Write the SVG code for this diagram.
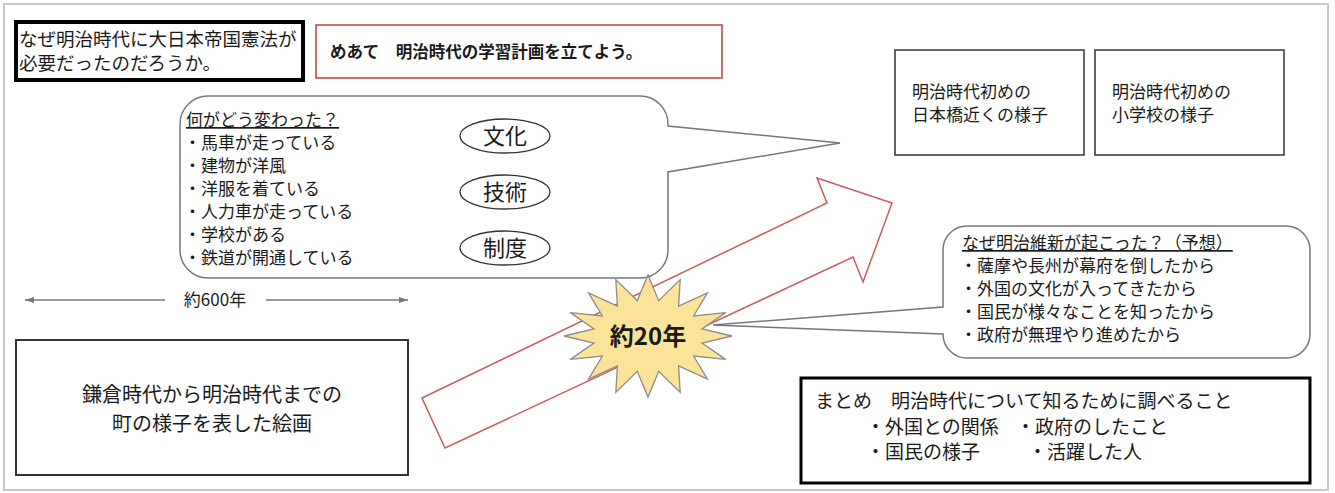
<svg xmlns="http://www.w3.org/2000/svg" width="1335" height="493" viewBox="0 0 1335 493">
<style>
text{font-family:"Noto Sans CJK JP","Noto Sans CJK SC",sans-serif;fill:#1a1a1a}
.t17{font-size:17px}
.t19{font-size:19px}
.box{fill:#fff;stroke:#333;stroke-width:1.5}
.bubble{fill:#fff;stroke:#777;stroke-width:1.5}
.ell{fill:#fff;stroke:#333;stroke-width:1.3}
.ellt{font-size:22px;text-anchor:middle}
.dim{stroke:#777;stroke-width:1.3;fill:none}
</style>
<defs>
<marker id="ah" markerWidth="10" markerHeight="8" refX="9" refY="4" orient="auto-start-reverse" markerUnits="userSpaceOnUse">
<path d="M0,1 L9,4 L0,7 Z" fill="#777"/>
</marker>
</defs>
<rect x="4" y="4" width="1324" height="486" fill="#fff" stroke="#c8c8c8" stroke-width="2"/>

<g id="question">
<rect x="16" y="22" width="287" height="58" fill="#fff" stroke="#000" stroke-width="4"/>
<text x="19" y="46" font-size="18.5">なぜ明治時代に大日本帝国憲法が</text>
<text x="19" y="70" font-size="18.5">必要だったのだろうか。</text>
</g>

<g id="meate">
<rect x="316" y="25" width="406" height="53" fill="#fff" stroke="#c83c3c" stroke-width="1.5"/>
<text x="330" y="58" font-size="16.5" font-weight="bold">めあて　明治時代の学習計画を立てよう。</text>
</g>

<g id="box-nihonbashi">
<rect class="box" x="895" y="50" width="189" height="105"/>
<text class="t17" x="912" y="98">明治時代初めの</text>
<text class="t17" x="912" y="121">日本橋近くの様子</text>
</g>

<g id="box-school">
<rect class="box" x="1095" y="50" width="189" height="105"/>
<text class="t17" x="1112" y="98">明治時代初めの</text>
<text class="t17" x="1112" y="121">小学校の様子</text>
</g>

<g id="changes-bubble">
<path class="bubble" d="M208,96 H640 A28,28 0 0 1 668,124 V126 L840,143 L668,172 V250 A28,28 0 0 1 640,278 H208 A28,28 0 0 1 180,250 V124 A28,28 0 0 1 208,96 Z"/>
<text class="t17" x="186" y="126" text-decoration="underline">何がどう変わった？</text>
<text class="t17" x="184" y="149">・馬車が走っている</text>
<text class="t17" x="184" y="172">・建物が洋風</text>
<text class="t17" x="184" y="195">・洋服を着ている</text>
<text class="t17" x="184" y="218">・人力車が走っている</text>
<text class="t17" x="184" y="241">・学校がある</text>
<text class="t17" x="184" y="264">・鉄道が開通している</text>
</g>

<g id="culture">
<ellipse class="ell" cx="505" cy="136" rx="45" ry="17"/>
<text class="ellt" x="505" y="144">文化</text>
</g>
<g id="technology">
<ellipse class="ell" cx="505" cy="192" rx="45" ry="17"/>
<text class="ellt" x="505" y="200">技術</text>
</g>
<g id="system">
<ellipse class="ell" cx="505" cy="248" rx="45" ry="17"/>
<text class="ellt" x="505" y="256">制度</text>
</g>

<g id="connectors">
<line class="dim" x1="25" y1="300" x2="165" y2="300" marker-start="url(#ah)"/>
<line class="dim" x1="266" y1="300" x2="408" y2="300" marker-end="url(#ah)"/>
<polygon points="422,398 827,203 817,178 892,203 863,282 853,257 445,448" fill="#fff" stroke="#d05a5a" stroke-width="1.5"/>
</g>

<g id="span600">
<text x="215" y="306" font-size="17" fill="#444" text-anchor="middle">約600年</text>
</g>

<g id="reasons-bubble">
<path class="bubble" d="M967,226 H1286 A24,24 0 0 1 1310,250 V334 A24,24 0 0 1 1286,358 H967 A24,24 0 0 1 943,334 L713,325 L943,307 V250 A24,24 0 0 1 967,226 Z"/>
<text x="962" y="249" font-size="17" text-decoration="underline">なぜ明治維新が起こった？（予想）</text>
<text x="960" y="272" font-size="17">・薩摩や長州が幕府を倒したから</text>
<text x="960" y="295" font-size="17">・外国の文化が入ってきたから</text>
<text x="960" y="318" font-size="17">・国民が様々なことを知ったから</text>
<text x="960" y="341" font-size="17">・政府が無理やり進めたから</text>
</g>

<g id="twenty-years">
<polygon points="648,275 658.7,300.7 680.2,279.6 678.6,306.1 707.4,292.9 693.7,316 725.6,312.6 702,329 732,336 702,343 725.6,359.4 693.7,356 707.4,379.1 678.6,365.9 680.2,392.4 658.7,371.3 648,397 637.3,371.3 615.8,392.4 617.4,365.9 588.6,379.1 602.3,356 570.4,359.4 594,343 564,336 594,329 570.4,312.6 602.3,316 588.6,292.9 617.4,306.1 615.8,279.6 637.3,300.7" fill="#fbe39a" stroke="#8c8c8c" stroke-width="1.3"/>
<text x="648" y="345" font-size="24" font-weight="bold" text-anchor="middle">約20年</text>
</g>

<g id="painting">
<rect x="16" y="340" width="392" height="135" fill="#fff" stroke="#333" stroke-width="2"/>
<text x="212" y="402" font-size="20" text-anchor="middle">鎌倉時代から明治時代までの</text>
<text x="212" y="431" font-size="20" text-anchor="middle">町の様子を表した絵画</text>
</g>

<g id="summary">
<rect x="801" y="378" width="509" height="105" fill="#fff" stroke="#000" stroke-width="3"/>
<text class="t19" x="815" y="408">まとめ　明治時代について知るために調べること</text>
<text class="t19" x="866" y="434">・外国との関係</text>
<text class="t19" x="1016" y="434">・政府のしたこと</text>
<text class="t19" x="866" y="459">・国民の様子</text>
<text class="t19" x="1028" y="459">・活躍した人</text>
</g>
</svg>
